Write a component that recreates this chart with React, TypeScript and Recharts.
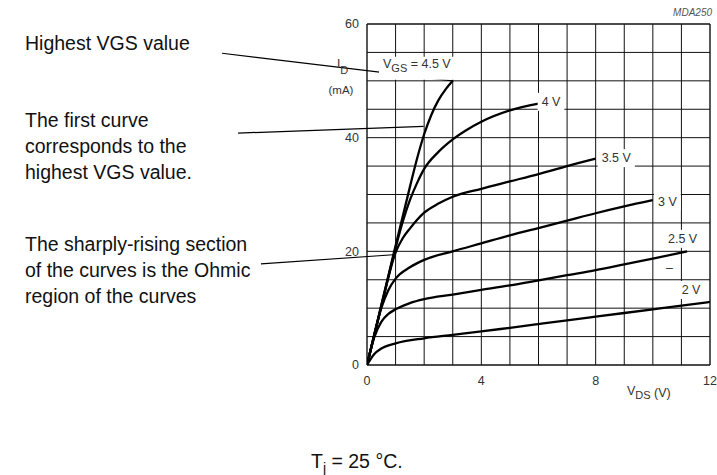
import React from 'react';
import { LineChart, Line, XAxis, YAxis, ReferenceLine, ReferenceDot } from 'recharts';

const W = 717;
const H = 475;
const FONT = '"Liberation Sans", Arial, Helvetica, sans-serif';

// axis ticks and grid
const xTicks = [0, 4, 8, 12];
const yTicks = [0, 20, 40, 60];
const gridXValues = [0, 1, 2, 3, 4, 5, 6, 7, 8, 9, 10, 11, 12];
const gridYValues = [0, 5, 10, 15, 20, 25, 30, 35, 40, 45, 50, 55, 60];

// curves (V_DS in V, I_D in mA)
const vds45 = [0, 0.5, 1, 1.5, 1.75, 2, 2.25, 2.5, 2.75, 3];
const id45 = [0, 10.5, 21, 31.3, 36.3, 40.6, 44, 46.6, 48.5, 50];

const vds40 = [0, 0.5, 1, 1.25, 1.5, 1.75, 2, 2.5, 3, 3.5, 4, 5, 6];
const id40 = [0, 10.4, 20.6, 25.2, 29, 32, 34.5, 37.5, 39.7, 41.4, 42.8, 44.8, 46];

const vds35 = [0, 0.5, 1, 1.25, 1.5, 2, 2.5, 3, 4, 5, 6, 7, 8];
const id35 = [0, 10.3, 19.8, 22.3, 24, 26.8, 28.4, 29.6, 31, 32.3, 33.6, 35, 36.3];

const vds30 = [0, 0.25, 0.5, 0.75, 1, 1.5, 2, 3, 4, 5, 6, 7, 8, 9, 10];
const id30 = [0, 5.2, 10, 13.2, 15.2, 17.2, 18.5, 20, 21.4, 22.8, 24.1, 25.4, 26.7, 27.9, 29];

const vds25 = [0, 0.25, 0.5, 0.75, 1, 1.5, 2, 3, 4, 5, 6, 7, 8, 9, 10, 11.2];
const id25 = [0, 4.8, 7.6, 9, 9.8, 10.9, 11.6, 12.4, 13.2, 14, 14.9, 15.8, 16.7, 17.7, 18.7, 20];

const vds20 = [0, 0.25, 0.5, 1, 2, 3, 4, 5, 6, 7, 8, 9, 10, 11, 12];
const id20 = [0, 1.9, 2.9, 3.8, 4.7, 5.3, 5.9, 6.55, 7.2, 7.85, 8.5, 9.15, 9.8, 10.45, 11.1];

// curve labels
const labelTexts = ['4.5 V', '4 V', '3.5 V', '3 V', '2.5 V', '2 V', '–'];
const labelX = [0.56, 6.11, 8.21, 10.18, 10.53, 11.01, 10.46];
const labelY = [52.3, 45.6, 35.7, 28.0, 21.5, 12.5, 16.4];

// annotation pointer lines (from text to curve)
const annoStart = [
  { x: -5.07, y: 54.85 },
  { x: -4.51, y: 40.8 },
  { x: -3.71, y: 17.8 },
];
const annoEnd = [
  { x: 3, y: 50 },
  { x: 1.98, y: 42.0 },
  { x: 0.92, y: 19.4 },
];

// left annotation text
const noteLines = [
  'Highest VGS value',
  'The first curve',
  'corresponds to the',
  'highest VGS value.',
  'The sharply-rising section',
  'of the curves is the Ohmic',
  'region of the curves',
];
const noteBaselines = [50, 127, 153, 179, 251, 277, 303];

const zip = (v: number[], i: number[]) => v.map((x, k) => ({ vds: x, id: i[k] }));
const series = [
  zip(vds45, id45),
  zip(vds40, id40),
  zip(vds35, id35),
  zip(vds30, id30),
  zip(vds25, id25),
  zip(vds20, id20),
];

const charW = (s: string) => {
  let w = 0;
  for (const c of s) {
    if (c === ' ' || c === '.') w += 0.278;
    else if (c === 'V') w += 0.667;
    else if (c === '=') w += 0.584;
    else if (c === 'G') w += 0.778;
    else if (c === 'S') w += 0.667;
    else w += 0.556;
  }
  return w;
};

const LabelFS = 12.5;

const CurveLabel = (props: any) => {
  const { cx, cy, idx } = props;
  if (cx == null || cy == null) return null;
  const t = labelTexts[idx];
  if (idx === 0) {
    const w = (charW('V') + charW(' = 4.5 V')) * LabelFS + charW('GS') * 11;
    return (
      <g>
        <rect x={cx - 4} y={cy - 11} width={w + 8} height={23} fill="#fff" />
        <text x={cx} y={cy} fontFamily={FONT} fontSize={LabelFS} fill="#333">
          V
          <tspan fontSize={11} dy={4}>GS</tspan>
          <tspan dy={-4}> = 4.5 V</tspan>
        </text>
      </g>
    );
  }
  if (t === '–') {
    return (
      <text x={cx} y={cy} fontFamily={FONT} fontSize={LabelFS} fill="#333">
        {t}
      </text>
    );
  }
  const w = charW(t) * LabelFS;
  return (
    <g>
      <rect x={cx - 4} y={cy - 13} width={w + 8} height={18} fill="#fff" />
      <text x={cx} y={cy} fontFamily={FONT} fontSize={LabelFS} fill="#333">
        {t}
      </text>
    </g>
  );
};

export default function App() {
  return (
    <div style={{ position: 'absolute', left: 0, top: 0, width: W, height: H, background: '#fff' }}>
      <LineChart
        width={W}
        height={H}
        margin={{ top: 24, right: 7, left: 337, bottom: 80 }}
      >
        <XAxis
          dataKey="vds"
          type="number"
          domain={[0, 12]}
          ticks={xTicks}
          interval={0}
          allowDataOverflow
          tickLine={false}
          axisLine={false}
          tickSize={9}
          tickMargin={2}
          height={30}
          tick={{ fontSize: 12.5, fill: '#333', fontFamily: FONT }}
        />
        <YAxis
          dataKey="id"
          type="number"
          domain={[0, 60]}
          ticks={yTicks}
          interval={0}
          allowDataOverflow
          tickLine={false}
          axisLine={false}
          tickSize={6}
          tickMargin={2}
          width={30}
          tick={{ fontSize: 12.5, fill: '#333', fontFamily: FONT }}
        />
        {gridXValues.map((v) => (
          <ReferenceLine key={'gx' + v} x={v} stroke="#111" strokeWidth={v === 0 || v === 12 ? 1.4 : 1} />
        ))}
        {gridYValues.map((v) => (
          <ReferenceLine key={'gy' + v} y={v} stroke="#111" strokeWidth={v === 0 || v === 60 ? 1.4 : 1} />
        ))}
        {series.map((d, k) => (
          <Line
            key={'s' + k}
            data={d}
            dataKey="id"
            type="monotone"
            stroke="#000"
            strokeWidth={2.3}
            dot={false}
            activeDot={false}
            isAnimationActive={false}
          />
        ))}
        {labelTexts.map((t, k) => (
          <ReferenceDot
            key={'lab' + k}
            x={labelX[k]}
            y={labelY[k]}
            r={0}
            ifOverflow="visible"
            shape={(p: any) => <CurveLabel {...p} idx={k} />}
          />
        ))}
        {annoStart.map((s, k) => (
          <ReferenceLine
            key={'an' + k}
            segment={[s, annoEnd[k]]}
            stroke="#000"
            strokeWidth={1.2}
            ifOverflow="visible"
          />
        ))}
      </LineChart>
      <svg
        width={W}
        height={H}
        style={{ position: 'absolute', left: 0, top: 0, pointerEvents: 'none' }}
      >
        {noteLines.map((t, k) => (
          <text key={'n' + k} x={25} y={noteBaselines[k]} fontFamily={FONT} fontSize={19.5} fill="#111">
            {t}
          </text>
        ))}
        <text x={337} y={68} fontFamily={FONT} fontSize={12} fill="#333">
          I<tspan fontSize={11} dy={6}>D</tspan>
        </text>
        <text x={341} y={94} fontFamily={FONT} fontSize={11.5} fill="#333" textAnchor="middle">
          (mA)
        </text>
        <text x={627} y={395} fontFamily={FONT} fontSize={12.5} fill="#333">
          V<tspan fontSize={11} dy={4}>DS</tspan>
          <tspan dy={-2}> (V)</tspan>
        </text>
        <text x={712} y={16} fontFamily={FONT} fontSize={10} fontStyle="italic" fill="#555" textAnchor="end">
          MDA250
        </text>
        <text x={311} y={468} fontFamily={FONT} fontSize={19.5} fill="#111">
          T<tspan fontSize={14} dy={5}>j</tspan>
          <tspan dy={-5}> = 25 °C.</tspan>
        </text>
      </svg>
    </div>
  );
}
